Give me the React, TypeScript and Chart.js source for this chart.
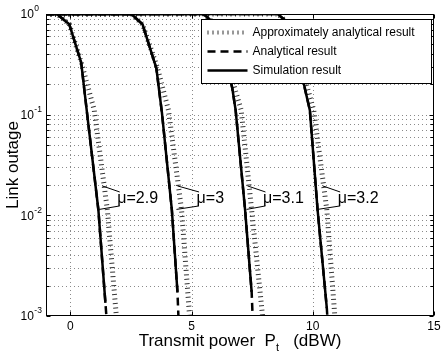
import React, { useEffect, useRef } from 'react';
import { Chart, registerables } from 'chart.js';

Chart.register(...registerables);

const FONT = '"Liberation Sans", Arial, Helvetica, sans-serif';

// ---- axes ----
const xMin = -1;
const xMax = 15;
const yMin = 1e-3;
const yMax = 1;
const xTickValues = [0, 5, 10, 15];
const xTickLabels = ['0', '5', '10', '15'];
const xGridValues = [0, 5, 10];
const yMajorExps = [0, -1, -2, -3];
const yMinorMults = [2, 3, 4, 5, 6, 7, 8, 9];

// ---- mu = 2.9 ----
const sim29X = [-1, -0.55, -0.04, 0.45, 0.70, 1.16, 1.45];
const sim29Y = [1, 1, 0.79, 0.33, 0.1, 0.0113, 0.00135];
const ana29X = [-1, -0.55, -0.04, 0.45, 0.70, 1.16, 1.45, 1.49];
const ana29Y = [1, 1, 0.79, 0.33, 0.1, 0.0113, 0.00135, 0.001];
const apx29X = [-1, -0.55, -0.04, 0.47, 0.99, 1.53, 1.90];
const apx29Y = [1, 1, 0.79, 0.32, 0.111, 0.0113, 0.001];

// ---- mu = 3 ----
const sim30X = [-1, 2.52, 2.98, 3.55, 3.78, 4.19, 4.42];
const sim30Y = [1, 1, 0.79, 0.29, 0.105, 0.0113, 0.00174];
const ana30X = [-1, 2.52, 2.98, 3.55, 3.78, 4.19, 4.42, 4.46];
const ana30Y = [1, 1, 0.79, 0.29, 0.105, 0.0113, 0.00174, 0.001];
const apx30X = [-1, 2.52, 2.98, 3.6, 4.05, 4.59, 4.92];
const apx30Y = [1, 1, 0.79, 0.29, 0.111, 0.0113, 0.001];

// ---- mu = 3.1 ----
const sim31X = [-1, 5.5, 5.98, 6.47, 6.68, 6.82, 7.21, 7.48];
const sim31Y = [1, 1, 0.79, 0.31, 0.184, 0.111, 0.0113, 0.00174];
const ana31X = [-1, 5.5, 5.98, 6.47, 6.68, 6.82, 7.21, 7.48, 7.52];
const ana31Y = [1, 1, 0.79, 0.31, 0.184, 0.111, 0.0113, 0.00174, 0.001];
const apx31X = [-1, 5.5, 5.98, 6.5, 7.05, 7.48, 7.93];
const apx31Y = [1, 1, 0.79, 0.31, 0.111, 0.0113, 0.001];

// ---- mu = 3.2 ----
const sim32X = [-1, 8.55, 9.05, 9.46, 9.67, 9.88, 10.2, 10.58];
const sim32Y = [1, 1, 0.79, 0.32, 0.184, 0.111, 0.0113, 0.0012];
const ana32X = [-1, 8.55, 9.05, 9.46, 9.67, 9.88, 10.2, 10.58, 10.6];
const ana32Y = [1, 1, 0.79, 0.32, 0.184, 0.111, 0.0113, 0.0012, 0.001];
const apx32X = [-1, 8.55, 9.05, 9.5, 10.04, 10.58, 10.91];
const apx32Y = [1, 1, 0.79, 0.32, 0.111, 0.0113, 0.001];

// ---- annotations (data coords) ----
const muLabels = ['\u03bc=2.9', '\u03bc=3', '\u03bc=3.1', '\u03bc=3.2'];
const muTextX = [1.94, 5.21, 7.95, 11.03];
const muTextY = 0.01455;
const muUpperTipX = [1.32, 4.42, 7.31, 10.41];
const muLowerTipX = [1.2, 4.38, 7.27, 10.2];
const muUpperTipY = 0.0196;
const muLowerTipY = 0.01145;
const muUpperStartY = 0.01706;
const muLowerStartY = 0.0124;

// ---- legend ----
const legendLabels = ['Approximately analytical result', 'Analytical result', 'Simulation result'];

const APX_STYLE = { borderColor: '#333333', borderWidth: 5, borderDash: [1, 3.5], order: 3 };
const ANA_STYLE = { borderColor: '#000', borderWidth: 2.5, borderDash: [8, 5], order: 2 };
const SIM_STYLE = { borderColor: '#000', borderWidth: 2.5, borderDash: [], order: 1 };

function zip(xs: number[], ys: number[]) {
  return xs.map((x, i) => ({ x, y: ys[i] }));
}

const curves = [
  [apx29X, apx29Y, APX_STYLE], [ana29X, ana29Y, ANA_STYLE], [sim29X, sim29Y, SIM_STYLE],
  [apx30X, apx30Y, APX_STYLE], [ana30X, ana30Y, ANA_STYLE], [sim30X, sim30Y, SIM_STYLE],
  [apx31X, apx31Y, APX_STYLE], [ana31X, ana31Y, ANA_STYLE], [sim31X, sim31Y, SIM_STYLE],
  [apx32X, apx32Y, APX_STYLE], [ana32X, ana32Y, ANA_STYLE], [sim32X, sim32Y, SIM_STYLE],
] as any[];

const matlabPlugin = {
  id: 'matlabStyle',
  beforeDatasetsDraw(chart: any) {
    const { ctx, chartArea: ca, scales } = chart;
    const xs = scales.x, ys = scales.y;
    ctx.save();
    ctx.strokeStyle = '#8a8a8a';
    ctx.lineWidth = 1;
    ctx.setLineDash([1, 3]);
    for (const v of xGridValues) {
      const px = Math.round(xs.getPixelForValue(v)) + 0.5;
      ctx.beginPath(); ctx.moveTo(px, ca.top); ctx.lineTo(px, ca.bottom); ctx.stroke();
    }
    for (const e of yMajorExps) {
      for (const m of [1, ...yMinorMults]) {
        const v = m * Math.pow(10, e);
        if (v <= yMin || v >= yMax) continue;
        const py = Math.round(ys.getPixelForValue(v)) + 0.5;
        ctx.beginPath(); ctx.moveTo(ca.left, py); ctx.lineTo(ca.right, py); ctx.stroke();
      }
    }
    ctx.restore();
  },
  afterDatasetsDraw(chart: any) {
    const { ctx, chartArea: ca, scales } = chart;
    const xs = scales.x, ys = scales.y;
    ctx.save();
    ctx.setLineDash([]);
    // frame
    ctx.strokeStyle = '#000';
    ctx.lineWidth = 1;
    const L = Math.round(ca.left) + 0.5, R = Math.round(ca.right) - 0.5;
    const T = Math.round(ca.top) + 0.5, B = Math.round(ca.bottom) - 0.5;
    ctx.strokeRect(L, T, R - L, B - T);
    // ticks
    ctx.beginPath();
    for (const v of xTickValues) {
      const px = Math.round(xs.getPixelForValue(v)) + 0.5;
      ctx.moveTo(px, B); ctx.lineTo(px, B - 4);
      ctx.moveTo(px, T); ctx.lineTo(px, T + 4);
    }
    for (const e of yMajorExps) {
      for (const m of [1, ...yMinorMults]) {
        const v = m * Math.pow(10, e);
        if (v < yMin || v > yMax) continue;
        const py = Math.round(ys.getPixelForValue(v)) + 0.5;
        const len = m === 1 ? 4 : 3;
        ctx.moveTo(L, py); ctx.lineTo(L + len, py);
        ctx.moveTo(R, py); ctx.lineTo(R - len, py);
      }
    }
    ctx.stroke();

    // x tick labels
    ctx.fillStyle = '#000';
    ctx.font = `12px ${FONT}`;
    ctx.textAlign = 'center';
    ctx.textBaseline = 'middle';
    xTickValues.forEach((v, i) => {
      ctx.fillText(xTickLabels[i], xs.getPixelForValue(v), ca.bottom + 11);
    });
    // y tick labels 10^e
    ctx.textAlign = 'left';
    for (const e of yMajorExps) {
      const py = ys.getPixelForValue(Math.pow(10, e));
      const x0 = ca.left - 25.5;
      ctx.font = `12px ${FONT}`;
      ctx.fillText('10', x0, py + 1);
      const w = ctx.measureText('10').width;
      ctx.font = `8.5px ${FONT}`;
      ctx.fillText(String(e), x0 + w + 0.5, py - 5);
    }

    // axis titles
    ctx.textBaseline = 'alphabetic';
    const part1 = 'Transmit power  P';
    const part2 = 't';
    const part3 = '   (dBW)';
    ctx.font = `17px ${FONT}`;
    const w1 = ctx.measureText(part1).width;
    const w3 = ctx.measureText(part3).width;
    ctx.font = `11px ${FONT}`;
    const w2 = ctx.measureText(part2).width;
    const total = w1 + w2 + w3;
    let tx = (ca.left + ca.right) / 2 - total / 2;
    const base = ca.bottom + 30;
    ctx.font = `17px ${FONT}`;
    ctx.fillText(part1, tx, base);
    tx += w1;
    ctx.font = `11px ${FONT}`;
    ctx.fillText(part2, tx, base + 5);
    tx += w2;
    ctx.font = `17px ${FONT}`;
    ctx.fillText(part3, tx, base);

    ctx.save();
    ctx.translate(13, (ca.top + ca.bottom) / 2);
    ctx.rotate(-Math.PI / 2);
    ctx.textAlign = 'center';
    ctx.textBaseline = 'middle';
    ctx.font = `17px ${FONT}`;
    ctx.fillText('Link outage', 0, 0);
    ctx.restore();

    // mu annotations
    ctx.lineWidth = 1;
    ctx.strokeStyle = '#000';
    muLabels.forEach((lab, i) => {
      const tx0 = xs.getPixelForValue(muTextX[i]);
      const sx = xs.getPixelForValue(muTextX[i] + 0.1);
      ctx.beginPath();
      ctx.moveTo(sx, ys.getPixelForValue(muUpperStartY));
      ctx.lineTo(xs.getPixelForValue(muUpperTipX[i]), ys.getPixelForValue(muUpperTipY));
      ctx.moveTo(sx, ys.getPixelForValue(muLowerStartY));
      ctx.lineTo(xs.getPixelForValue(muLowerTipX[i]), ys.getPixelForValue(muLowerTipY));
      ctx.stroke();
      ctx.font = `16px ${FONT}`;
      ctx.textAlign = 'left';
      ctx.textBaseline = 'middle';
      ctx.fillText(lab, tx0, ys.getPixelForValue(muTextY));
    });

    // legend
    const bx = Math.round(ca.right) - 232.5;
    const by = Math.round(ca.top) + 5.5;
    const bw = 230, bh = 64;
    ctx.fillStyle = '#fff';
    ctx.fillRect(bx, by, bw, bh);
    ctx.strokeStyle = '#000';
    ctx.lineWidth = 1;
    ctx.strokeRect(bx, by, bw, bh);
    const styles = [APX_STYLE, ANA_STYLE, SIM_STYLE];
    legendLabels.forEach((lab, i) => {
      const ry = by + 13 + i * 19;
      const st = styles[i];
      ctx.save();
      ctx.strokeStyle = st.borderColor;
      ctx.lineWidth = i === 0 ? 4 : st.borderWidth;
      ctx.setLineDash(i === 0 ? [1, 4] : st.borderDash);
      ctx.beginPath();
      ctx.moveTo(bx + 6, ry);
      ctx.lineTo(bx + 46, ry);
      ctx.stroke();
      ctx.restore();
      ctx.fillStyle = '#000';
      ctx.font = `12px ${FONT}`;
      ctx.textAlign = 'left';
      ctx.textBaseline = 'middle';
      ctx.fillText(lab, bx + 51, ry);
    });
    ctx.restore();
  },
};

export default function App() {
  const ref = useRef<HTMLCanvasElement>(null);
  useEffect(() => {
    const datasets = curves.map(([xs, ys, st]) => ({
      data: zip(xs, ys),
      borderColor: st.borderColor,
      borderWidth: st.borderWidth,
      borderDash: st.borderDash,
      order: st.order,
      pointRadius: 0,
      fill: false,
      tension: 0,
    }));
    const chart = new Chart(ref.current as HTMLCanvasElement, {
      type: 'line',
      data: { datasets } as any,
      options: {
        responsive: false,
        animation: false,
        devicePixelRatio: 1,
        layout: { padding: { left: 46, right: 9, top: 14, bottom: 38 } },
        plugins: { legend: { display: false }, tooltip: { enabled: false } },
        scales: {
          x: { type: 'linear', min: xMin, max: xMax, display: false },
          y: { type: 'logarithmic', min: yMin, max: yMax, display: false },
        },
      } as any,
      plugins: [matlabPlugin],
    });
    return () => chart.destroy();
  }, []);
  return (
    <div style={{ position: 'fixed', left: 0, top: 0, width: 443, height: 354, background: '#fff' }}>
      <canvas ref={ref} width={443} height={354} style={{ display: 'block' }} />
    </div>
  );
}
